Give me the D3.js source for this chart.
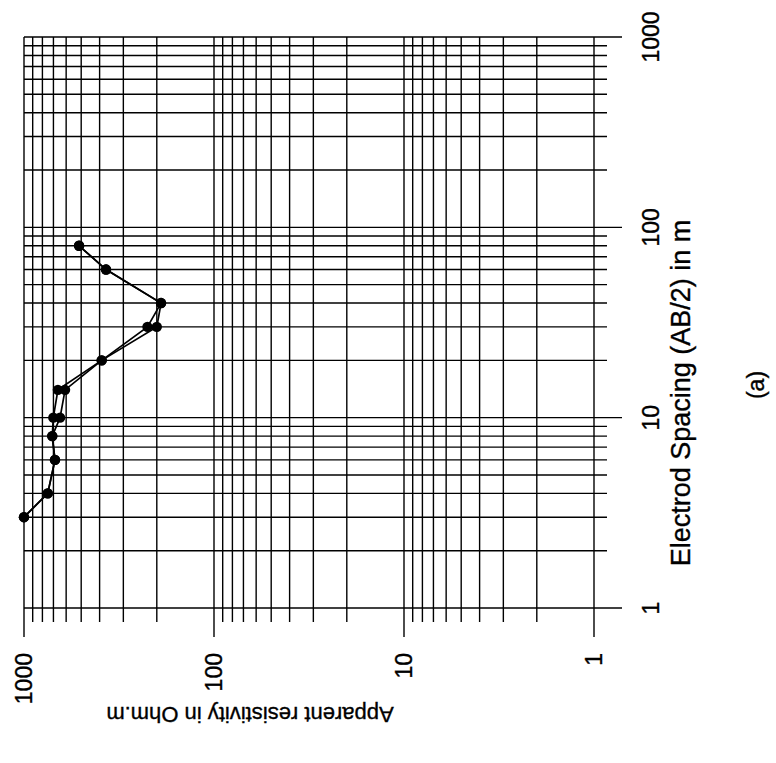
<!DOCTYPE html>
<html>
<head>
<meta charset="utf-8">
<script src="https://cdnjs.cloudflare.com/ajax/libs/d3/7.8.5/d3.min.js"></script>
<style>
  body { margin: 0; background: #fff; }
  text { font-family: "Liberation Sans", Arial, sans-serif; fill: #000; stroke: #000; stroke-width: 0.35; }
</style>
</head>
<body>
<script>
// electrode spacing AB/2 (m) and apparent resistivity (Ohm.m), two curves
const spacing = [3, 4, 6, 8, 10, 14, 20, 30, 40, 60, 80];
const rhoA = [1000, 750, 687, 710, 701, 663, 390, 224, 190, 370, 513];
const rhoB = [1000, 750, 687, 710, 646, 608, 390, 200, 190, 370, 513];

const decadeLabels = [1, 10, 100, 1000];

const svgWidth = 776;
const svgHeight = 763;

// the chart is printed turned a quarter turn: spacing runs upward, resistivity runs right-to-left
const plot = { left: 24, right: 594, top: 37, bottom: 608 };
const minorTick = 13;
const majorTick = 28;

let svg = d3.select("body")
    .append("svg")
    .attr("width", svgWidth)
    .attr("height", svgHeight);

//scales
let yScale = d3.scaleLog().domain([1, 1000]).range([plot.bottom, plot.top]);
let xScale = d3.scaleLog().domain([1000, 1]).range([plot.left, plot.right]);

const logTicks = d3.range(0, 3).flatMap(k => d3.range(1, 10).map(m => m * Math.pow(10, k))).concat([1000]);
const isMajor = (v) => decadeLabels.includes(v);

//grid - spacing lines
svg.append("g")
    .selectAll("line")
    .data(logTicks)
    .enter()
    .append("line")
    .attr("x1", plot.left)
    .attr("x2", (d) => plot.right + (isMajor(d) ? majorTick : minorTick))
    .attr("y1", (d) => yScale(d))
    .attr("y2", (d) => yScale(d))
    .attr("stroke", "#000")
    .attr("stroke-width", 1.4);

//grid - resistivity lines
svg.append("g")
    .selectAll("line")
    .data(logTicks)
    .enter()
    .append("line")
    .attr("y1", plot.top)
    .attr("y2", (d) => plot.bottom + (isMajor(d) ? majorTick + 1 : minorTick + 1))
    .attr("x1", (d) => xScale(d))
    .attr("x2", (d) => xScale(d))
    .attr("stroke", "#000")
    .attr("stroke-width", 1.4);

//tick labels, spacing
svg.append("g")
    .selectAll("text")
    .data(decadeLabels)
    .enter()
    .append("text")
    .attr("x", 659)
    .attr("y", (d) => yScale(d))
    .attr("text-anchor", "middle")
    .attr("font-size", 23)
    .attr("transform", (d) => `rotate(-90, 659, ${yScale(d)})`)
    .text((d) => d);

//tick labels, resistivity
svg.append("g")
    .selectAll("text")
    .data(decadeLabels)
    .enter()
    .append("text")
    .attr("x", (d) => xScale(d) + 8)
    .attr("y", 653)
    .attr("text-anchor", "end")
    .attr("font-size", 23)
    .attr("transform", (d) => `rotate(-90, ${xScale(d) + 8}, 653)`)
    .text((d) => d);

//axis titles
svg.append("text")
    .attr("x", 690)
    .attr("y", 393)
    .attr("text-anchor", "middle")
    .attr("font-size", 27)
    .attr("transform", "rotate(-90, 690, 393)")
    .text("Electrod Spacing (AB/2) in m");

svg.append("text")
    .attr("x", 250)
    .attr("y", 707)
    .attr("text-anchor", "middle")
    .attr("font-size", 22)
    .attr("transform", "rotate(180, 250, 707)")
    .text("Apparent resistivity in Ohm.m");

svg.append("text")
    .attr("x", 764)
    .attr("y", 385)
    .attr("text-anchor", "middle")
    .attr("font-size", 23)
    .attr("transform", "rotate(-90, 764, 385)")
    .text("(a)");

//curves
const line = d3.line()
    .x((d) => xScale(d[1]))
    .y((d) => yScale(d[0]));

[rhoA, rhoB].forEach((rho) => {
    const pts = spacing.map((s, i) => [s, rho[i]]);

    svg.append("path")
        .datum(pts)
        .attr("d", line)
        .attr("fill", "none")
        .attr("stroke", "#000")
        .attr("stroke-width", 1.7);

    svg.append("g")
        .selectAll("circle")
        .data(pts)
        .enter()
        .append("circle")
        .attr("cx", (d) => xScale(d[1]))
        .attr("cy", (d) => yScale(d[0]))
        .attr("r", 5.2)
        .attr("fill", "#000");
});
</script>
</body>
</html>
